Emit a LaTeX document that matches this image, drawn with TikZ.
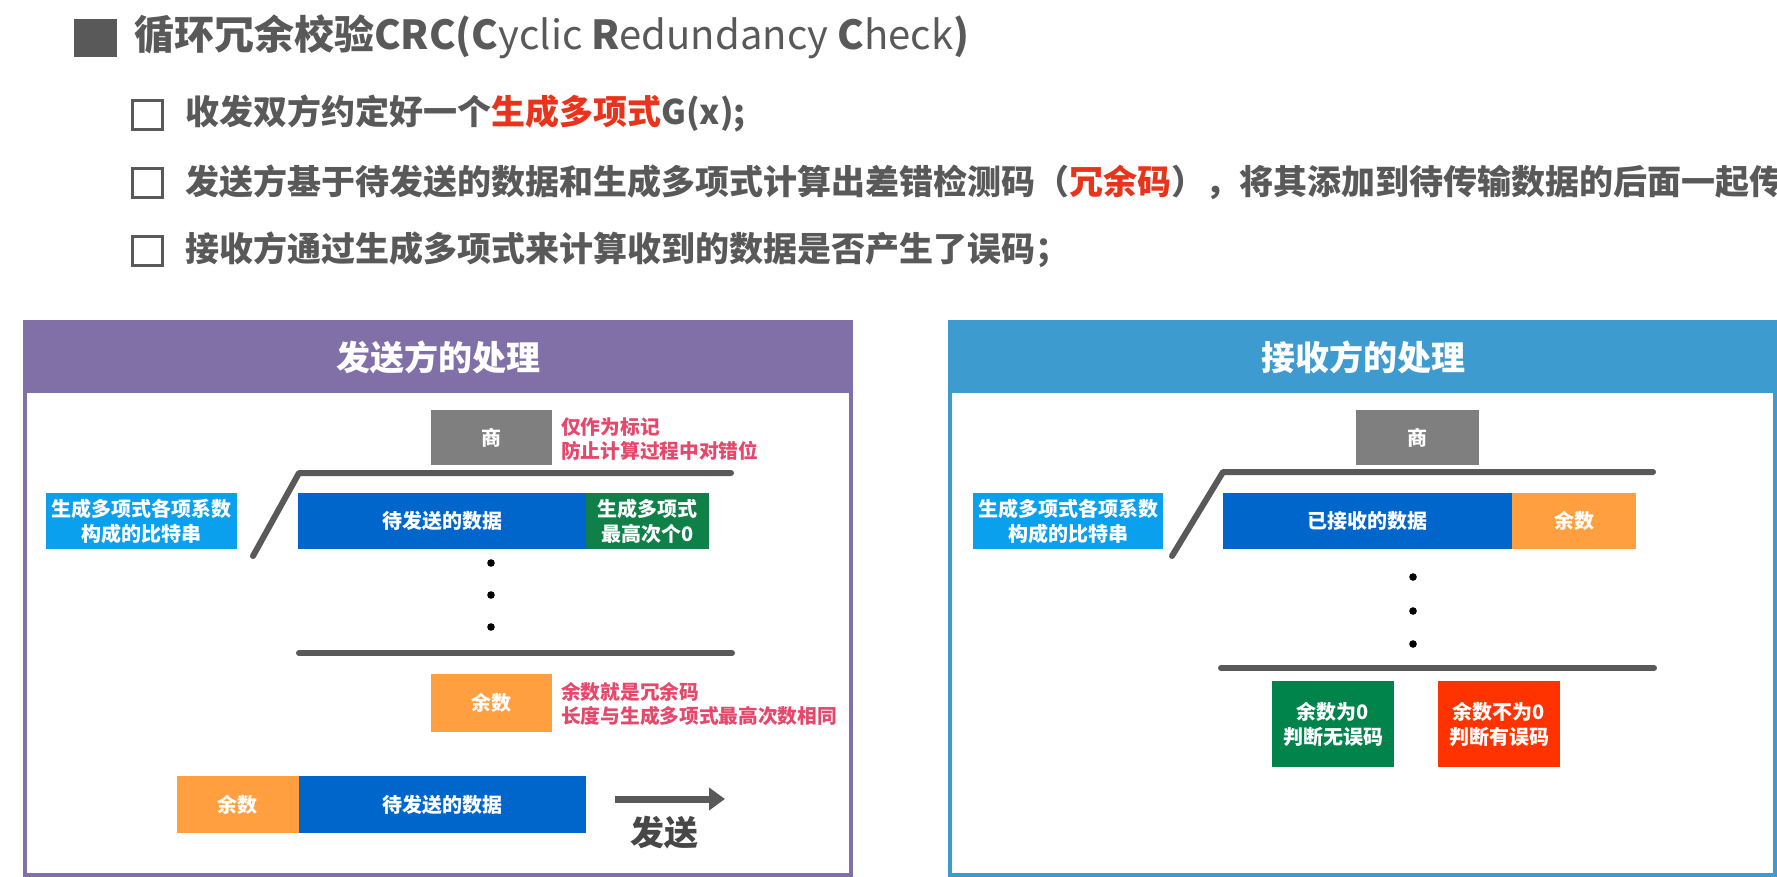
\documentclass[tikz,border=0pt]{standalone}
\usepackage{fontspec}
\setmainfont{Noto Sans CJK SC}
\usetikzlibrary{arrows.meta}

\definecolor{txtgray}{HTML}{595959}
\definecolor{hired}{HTML}{E8341C}
\definecolor{notered}{HTML}{E5486B}
\definecolor{sendpurple}{HTML}{8170A8}
\definecolor{recvblue}{HTML}{3E9BCF}
\definecolor{quotgray}{HTML}{7F7F7F}
\definecolor{skyblue}{HTML}{0AA0EE}
\definecolor{datablue}{HTML}{0066CC}
\definecolor{zerogreen}{HTML}{0E8048}
\definecolor{remorange}{HTML}{FF9F40}
\definecolor{okgreen}{HTML}{00844C}
\definecolor{errred}{HTML}{FF3300}
\definecolor{linegray}{HTML}{595959}

\newcommand{\fsz}[2]{\fontsize{#1}{#2}\selectfont}

\tikzset{
  box/.style={inner sep=0pt, align=center, text=white, font=\fsz{20}{25}\bfseries},
  bullettext/.style={anchor=west, inner sep=0pt, text=txtgray, font=\fsz{34}{40}\bfseries},
  checkbox/.style={draw=txtgray, line width=3pt},
  note/.style={anchor=west, inner sep=0pt, align=left, text=notered, font=\fsz{19.7}{23.5}\bfseries},
  divline/.style={draw=linegray, line width=6pt, line cap=round, line join=round},
  dot/.style={fill=black},
  paneltitle/.style={inner sep=0pt, text=white, font=\fsz{34}{40}\bfseries}
}

\begin{document}
\begin{tikzpicture}[x=1pt, y=-1pt]
\useasboundingbox (0,0) rectangle (1777,877);

% ---------- heading ----------
\fill[txtgray] (74,19) rectangle (117,57);
\node[anchor=west, inner sep=0pt, text=txtgray, font=\fsz{40}{46}] (title) at (134,37)
  {\textbf{循环冗余校验CRC(C}yclic \textbf{R}edundancy \textbf{C}heck\textbf{)}};

\draw[checkbox] (132.5,100.5) rectangle (162.5,129.5);
\node[bullettext] (b1) at (185,114) {收发双方约定好一个\textcolor{hired}{生成多项式}G(x);};

\draw[checkbox] (132.5,168.5) rectangle (162.5,197.5);
\node[bullettext] (b2) at (185,182) {发送方基于待发送的数据和生成多项式计算出差错检测码（\textcolor{hired}{冗余码}），将其添加到待传输数据的后面一起传};

\draw[checkbox] (132.5,236.5) rectangle (162.5,265.5);
\node[bullettext] (b3) at (185,250) {接收方通过生成多项式来计算收到的数据是否产生了误码；};

% ---------- sender panel ----------
\draw[sendpurple, line width=4pt, fill=white] (25,322) rectangle (851,875);
\fill[sendpurple] (25,322) rectangle (851,393);
\node[paneltitle] (stitle) at (438,357) {发送方的处理};

\node[box, fill=quotgray, minimum width=121pt, minimum height=55pt] (sq) at (491.5,437.5) {商};
\node[note] (snote1) at (561,439) {仅作为标记\\防止计算过程中对错位};

\coordinate (sa) at (253,556);
\coordinate (sb) at (299,473);
\coordinate (sc) at (731,473);
\draw[divline] (sa) -- (sb) -- (sc);

\node[box, fill=skyblue, minimum width=191pt, minimum height=56pt] (sg) at (141.5,521) {生成多项式各项系数\\构成的比特串};
\node[box, fill=datablue, minimum width=288pt, minimum height=56pt] (sd) at (442,521) {待发送的数据};
\node[box, fill=zerogreen, minimum width=123pt, minimum height=56pt] (sz) at (647.5,521) {生成多项式\\最高次个0};

\fill[dot] (491,563) circle (3.8);
\fill[dot] (491,595) circle (3.8);
\fill[dot] (491,627) circle (3.8);

\coordinate (sl1) at (299,653);
\coordinate (sl2) at (732,653);
\draw[divline] (sl1) -- (sl2);

\node[box, fill=remorange, minimum width=121pt, minimum height=58pt] (sr) at (491.5,702.5) {余数};
\node[note] (snote2) at (561,704) {余数就是冗余码\\长度与生成多项式最高次数相同};

\node[box, fill=remorange, minimum width=122pt, minimum height=57pt] (fr) at (237.5,804.5) {余数};
\node[box, fill=datablue, minimum width=287pt, minimum height=57pt] (fd) at (442,804.5) {待发送的数据};

\coordinate (arA) at (615,799);
\coordinate (arB) at (725,799);
\draw[linegray, line width=7pt, -{Triangle[length=16pt, width=22pt]}] (arA) -- (arB);
\node[inner sep=0pt, text=txtgray!80!black, font=\fsz{34}{40}\bfseries] (send) at (664,833) {发送};

% ---------- receiver panel ----------
\draw[recvblue, line width=4pt, fill=white] (950,322) rectangle (1775,875);
\fill[recvblue] (950,322) rectangle (1775,393);
\node[paneltitle] (rtitle) at (1363,357) {接收方的处理};

\node[box, fill=quotgray, minimum width=123pt, minimum height=55pt] (rq) at (1417.5,437.5) {商};

\coordinate (ra) at (1172,556);
\coordinate (rb) at (1223,472);
\coordinate (rc) at (1653,472);
\draw[divline] (ra) -- (rb) -- (rc);

\node[box, fill=skyblue, minimum width=190pt, minimum height=56pt] (rg) at (1068,521) {生成多项式各项系数\\构成的比特串};
\node[box, fill=datablue, minimum width=289pt, minimum height=56pt] (rd) at (1367.5,521) {已接收的数据};
\node[box, fill=remorange, minimum width=124pt, minimum height=56pt] (rr) at (1574,521) {余数};

\fill[dot] (1413,577) circle (3.8);
\fill[dot] (1413,611) circle (3.8);
\fill[dot] (1413,644) circle (3.8);

\coordinate (rl1) at (1221,668);
\coordinate (rl2) at (1654,668);
\draw[divline] (rl1) -- (rl2);

\node[box, fill=okgreen, minimum width=122pt, minimum height=86pt] (rok) at (1333,724) {余数为0\\判断无误码};
\node[box, fill=errred, minimum width=122pt, minimum height=86pt] (rerr) at (1499,724) {余数不为0\\判断有误码};

\end{tikzpicture}
\end{document}
